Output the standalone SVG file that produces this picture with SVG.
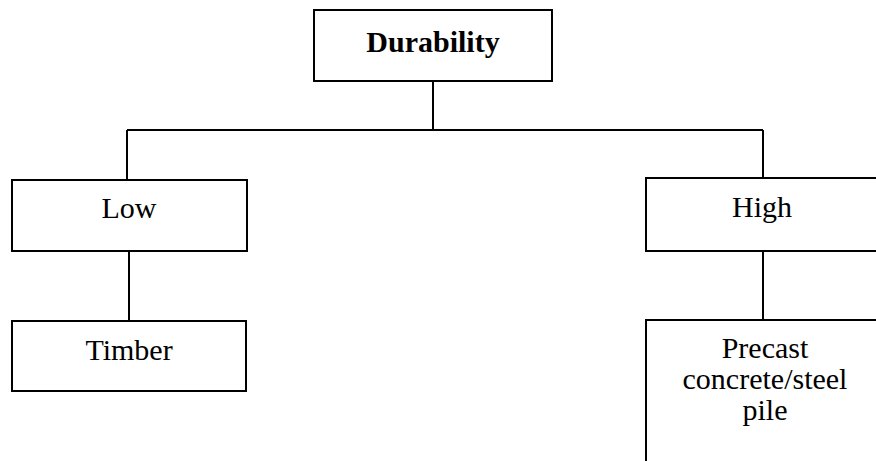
<svg xmlns="http://www.w3.org/2000/svg" width="876" height="461" viewBox="0 0 876 461">
  <style>
    .box { fill: #ffffff; stroke: #000000; stroke-width: 2; }
    .link { fill: none; stroke: #000000; stroke-width: 2; }
    .label { font-family: "Liberation Serif", "Times New Roman", serif; font-size: 30px; fill: #000000; text-anchor: middle; }
    .bold { font-weight: bold; }
  </style>
  <rect width="876" height="461" fill="#ffffff"/>

  <!-- tree connectors -->
  <g id="connectors">
    <path class="link" d="M433 81 V130"/>
    <path class="link" d="M127 130 H763"/>
    <path class="link" d="M127 130 V180"/>
    <path class="link" d="M763 130 V178"/>
    <path class="link" d="M129 251 V321"/>
    <path class="link" d="M763 251 V320"/>
  </g>

  <g id="durability">
    <rect class="box" x="314" y="10" width="238" height="71"/>
    <text class="label bold" x="433" y="52">Durability</text>
  </g>

  <g id="low">
    <rect class="box" x="12" y="180" width="235" height="71"/>
    <text class="label" x="129" y="218">Low</text>
  </g>

  <g id="high">
    <rect class="box" x="646" y="178" width="240" height="73"/>
    <text class="label" x="762" y="217">High</text>
  </g>

  <g id="timber">
    <rect class="box" x="12" y="321" width="234" height="70"/>
    <text class="label" x="129" y="360">Timber</text>
  </g>

  <g id="precast">
    <rect class="box" x="646" y="320" width="240" height="160"/>
    <text class="label" x="765" y="358">Precast</text>
    <text class="label" x="765" y="389">concrete/steel</text>
    <text class="label" x="765" y="420">pile</text>
  </g>
</svg>
